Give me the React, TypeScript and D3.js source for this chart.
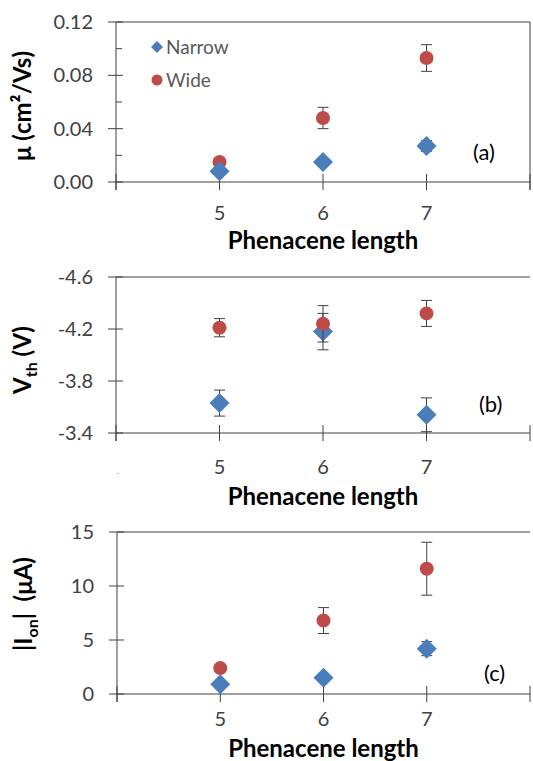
import * as d3 from 'd3'
import { useEffect, useRef } from 'react'

// phenacene length (x) and the axis ticks
const lengths = [5, 6, 7]
const xTicks = [4, 5, 6, 7, 8]
const xLabels = ['5', '6', '7']

// (a) mobility
const muNarrow = [0.008, 0.015, 0.027]
const muNarrowErr = [0.002, 0.002, 0.004]
const muWide = [0.015, 0.048, 0.093]
const muWideErr = [0.002, 0.008, 0.01]
const muTicks = [0, 0.04, 0.08, 0.12]
const muTickLabels = ['0.00', '0.04', '0.08', '0.12']
const muMinor = [0.02, 0.06, 0.1]

// (b) threshold voltage
const vthNarrow = [-3.63, -4.18, -3.54]
const vthNarrowErr = [0.1, 0.14, 0.13]
const vthWide = [-4.21, -4.24, -4.32]
const vthWideErr = [0.07, 0.14, 0.1]
const vthTicks = [-3.4, -3.8, -4.2, -4.6]
const vthTickLabels = ['-3.4', '-3.8', '-4.2', '-4.6']

// (c) on current
const ionNarrow = [0.9, 1.5, 4.2]
const ionNarrowErr = [0.2, 0.3, 0.65]
const ionWide = [2.4, 6.8, 11.6]
const ionWideErr = [0.3, 1.2, 2.45]
const ionTicks = [0, 5, 10, 15]
const ionTickLabels = ['0', '5', '10', '15']

const seriesNames = ['Narrow', 'Wide']
const blue = '#4a7ebb'
const red = '#be4b48'
const ink = '#404040'
const font = "Lato, 'Open Sans', sans-serif"

function drawPanel(svg, p) {
  const g = svg.append('g')
  const x = d3.scaleLinear().domain([4, 8]).range([p.left, p.right])
  const y = d3.scaleLinear().domain(p.domain).range([p.bottom, p.top])

  // frame: top border, optional right border
  g.append('line').attr('x1', p.left).attr('x2', p.right).attr('y1', p.top).attr('y2', p.top)
    .attr('stroke', ink)
  if (p.rightBorder) {
    g.append('line').attr('x1', p.right).attr('x2', p.right).attr('y1', p.top).attr('y2', p.bottom + 8)
      .attr('stroke', ink)
  }

  // y axis
  g.append('line').attr('x1', p.left).attr('x2', p.left).attr('y1', p.top).attr('y2', p.bottom + 8)
    .attr('stroke', ink)
  g.selectAll('.ytick').data(p.ticks).enter().append('line')
    .attr('x1', p.left - 8).attr('x2', p.left + 7)
    .attr('y1', d => y(d)).attr('y2', d => y(d)).attr('stroke', ink)
  g.selectAll('.yminor').data(p.minor || []).enter().append('line')
    .attr('x1', p.left).attr('x2', p.left + 6)
    .attr('y1', d => y(d)).attr('y2', d => y(d)).attr('stroke', ink)
  g.selectAll('.ylab').data(p.ticks).enter().append('text')
    .attr('x', p.left - 23).attr('y', d => y(d) + 7)
    .attr('text-anchor', 'end').attr('font-family', font).attr('font-size', 20).attr('fill', ink)
    .text((d, i) => p.tickLabels[i])

  // x axis
  g.append('line').attr('x1', p.left).attr('x2', p.right).attr('y1', p.bottom).attr('y2', p.bottom)
    .attr('stroke', ink)
  g.selectAll('.xtick').data(xTicks).enter().append('line')
    .attr('x1', d => x(d)).attr('x2', d => x(d))
    .attr('y1', p.bottom - 8).attr('y2', p.bottom + 8).attr('stroke', ink)
  g.selectAll('.xlab').data(lengths).enter().append('text')
    .attr('x', d => x(d)).attr('y', p.xLabelY)
    .attr('text-anchor', 'middle').attr('font-family', font).attr('font-size', 20).attr('fill', ink)
    .text((d, i) => xLabels[i])

  g.append('text').attr('x', x(6)).attr('y', p.xTitleY)
    .attr('text-anchor', 'middle').attr('font-family', font).attr('font-size', 24)
    .attr('font-weight', 'bold').attr('fill', '#000').text('Phenacene length')

  // y title
  const yt = g.append('text').attr('transform', `translate(${p.yTitleX},${p.yTitleY}) rotate(-90)`)
    .attr('text-anchor', 'middle').attr('font-family', font).attr('font-size', 24)
    .attr('font-weight', 'bold').attr('fill', '#000')
  p.yTitle(yt)

  // panel letter
  g.append('text').attr('x', p.letterX).attr('y', p.letterY)
    .attr('font-family', font).attr('font-size', 22).attr('fill', '#000').text(p.letter)

  const series = [
    { vals: p.narrow, err: p.narrowErr, kind: 'diamond' },
    { vals: p.wide, err: p.wideErr, kind: 'circle' },
  ]
  const order = p.wideFirst ? [series[1], series[0]] : series
  order.forEach(s => {
    const sg = g.append('g')
    lengths.forEach((len, i) => {
      const cx = x(len)
      const y0 = y(s.vals[i] - s.err[i])
      const y1 = y(s.vals[i] + s.err[i])
      sg.append('line').attr('x1', cx).attr('x2', cx).attr('y1', y0).attr('y2', y1).attr('stroke', ink)
      sg.append('line').attr('x1', cx - 5.5).attr('x2', cx + 5.5).attr('y1', y0).attr('y2', y0).attr('stroke', ink)
      sg.append('line').attr('x1', cx - 5.5).attr('x2', cx + 5.5).attr('y1', y1).attr('y2', y1).attr('stroke', ink)
    })
    sg.selectAll('path').data(s.vals).enter().append('path')
      .attr('d', s.kind === 'diamond'
        ? d3.symbol(d3.symbolSquare, 200)()
        : d3.symbol(d3.symbolCircle, 154)())
      .attr('transform', (d, i) => `translate(${x(lengths[i])},${y(d)})` + (s.kind === 'diamond' ? ' rotate(45)' : ''))
      .attr('fill', s.kind === 'diamond' ? blue : red)
  })
}

function App() {
  const ref = useRef(null)
  useEffect(() => {
    const svg = d3.select(ref.current)
    svg.selectAll('*').remove()

    drawPanel(svg, {
      left: 116, right: 530, top: 22, bottom: 182, rightBorder: true,
      domain: [0, 0.12], ticks: muTicks, tickLabels: muTickLabels, minor: muMinor,
      narrow: muNarrow, narrowErr: muNarrowErr, wide: muWide, wideErr: muWideErr, wideFirst: true,
      xLabelY: 220, xTitleY: 249, yTitleX: 31, yTitleY: 106,
      yTitle: t => { t.text('μ (cm²/Vs)') },
      letter: '(a)', letterX: 473, letterY: 160,
    })

    drawPanel(svg, {
      left: 116, right: 530, top: 277, bottom: 433, rightBorder: false,
      domain: [-3.4, -4.6], ticks: vthTicks, tickLabels: vthTickLabels,
      narrow: vthNarrow, narrowErr: vthNarrowErr, wide: vthWide, wideErr: vthWideErr, wideFirst: false,
      xLabelY: 474, xTitleY: 505, yTitleX: 31, yTitleY: 360,
      yTitle: t => {
        t.append('tspan').text('V')
        t.append('tspan').attr('font-size', 16).attr('dy', 6).text('th')
        t.append('tspan').attr('dy', -6).text(' (V)')
      },
      letter: '(b)', letterX: 479, letterY: 412,
    })

    drawPanel(svg, {
      left: 117, right: 530, top: 532, bottom: 694, rightBorder: false,
      domain: [0, 15], ticks: ionTicks, tickLabels: ionTickLabels,
      narrow: ionNarrow, narrowErr: ionNarrowErr, wide: ionWide, wideErr: ionWideErr, wideFirst: false,
      xLabelY: 726, xTitleY: 757, yTitleX: 32, yTitleY: 604,
      yTitle: t => {
        t.append('tspan').text('|I')
        t.append('tspan').attr('font-size', 16).attr('dy', 6).text('on')
        t.append('tspan').attr('dy', -6).attr('xml:space', 'preserve').text('|  (μA)')
      },
      letter: '(c)', letterX: 484, letterY: 681,
    })

    // stray dot beside panel (b)
    svg.append('text').attr('x', 117).attr('y', 474).attr('font-family', font)
      .attr('font-size', 10).attr('fill', '#999').text('.')

    // legend
    const lg = svg.append('g')
    lg.append('path').attr('d', d3.symbol(d3.symbolSquare, 72)())
      .attr('transform', 'translate(157,47) rotate(45)').attr('fill', blue)
    lg.append('path').attr('d', d3.symbol(d3.symbolCircle, 95)())
      .attr('transform', 'translate(157,80)').attr('fill', red)
    lg.selectAll('text').data(seriesNames).enter().append('text')
      .attr('x', 166).attr('y', (d, i) => 54 + i * 33)
      .attr('font-family', font).attr('font-size', 19).attr('fill', '#595959').text(d => d)
  }, [])

  return (
    <svg ref={ref} width={533} height={761}
      style={{ position: 'absolute', left: 0, top: 0, background: '#fff' }} />
  )
}

export default App
